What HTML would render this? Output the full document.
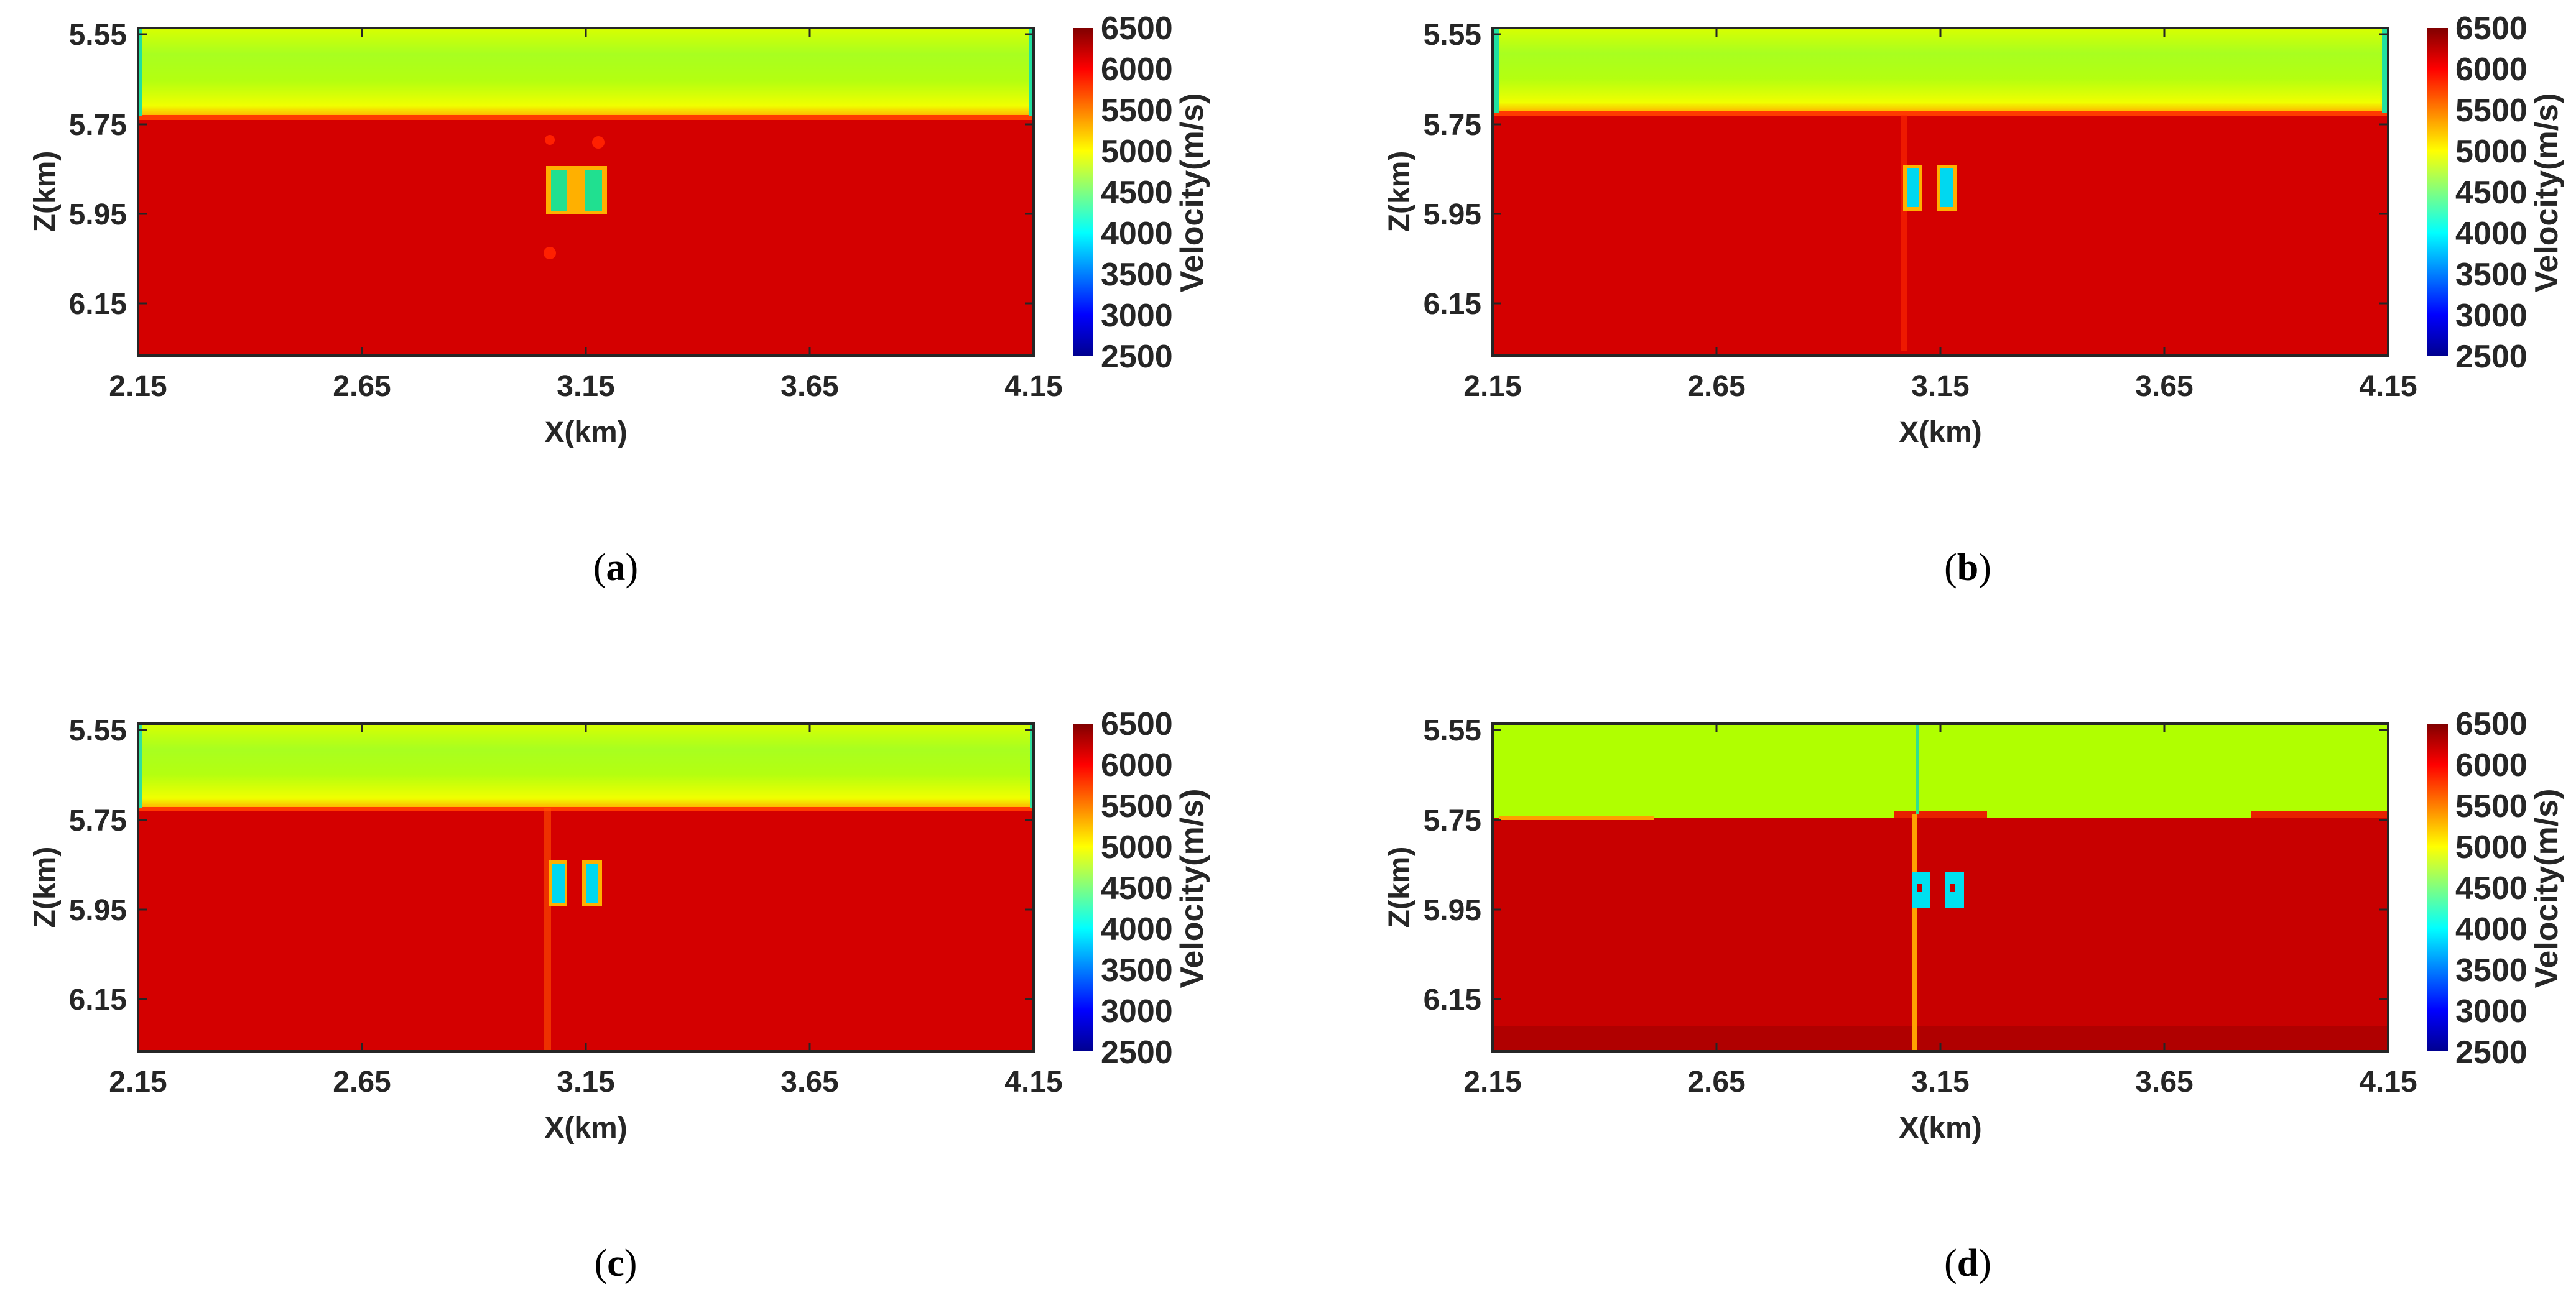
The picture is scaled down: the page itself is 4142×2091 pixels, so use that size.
<!DOCTYPE html>
<html><head><meta charset="utf-8"><style>
html,body{margin:0;padding:0;background:#fff}
svg{display:block}
.t{font-family:"Liberation Sans",Arial,sans-serif;font-weight:bold;font-size:48px;fill:#262626}
.c{font-family:"Liberation Sans",Arial,sans-serif;font-weight:bold;font-size:52px;fill:#262626}
.l{font-family:"Liberation Serif",serif;font-size:62px;fill:#000}
</style></head><body>
<svg width="4142" height="2091" viewBox="0 0 4142 2091" xmlns="http://www.w3.org/2000/svg">
<defs>
<linearGradient id="jet" x1="0" y1="1" x2="0" y2="0">
<stop offset="0" stop-color="#00008f"/><stop offset="0.125" stop-color="#0000ff"/>
<stop offset="0.375" stop-color="#00ffff"/><stop offset="0.5" stop-color="#80ff80"/><stop offset="0.625" stop-color="#ffff00"/>
<stop offset="0.875" stop-color="#ff0000"/><stop offset="1" stop-color="#800000"/>
</linearGradient>
<linearGradient id="top" x1="0" y1="0" x2="0" y2="1">
<stop offset="0" stop-color="#d8ff00"/><stop offset="0.3" stop-color="#a8ff20"/><stop offset="0.6" stop-color="#b4ff10"/><stop offset="0.88" stop-color="#f0ff00"/><stop offset="1" stop-color="#ffb000"/>
</linearGradient>
<g id="axes">
<rect x="0" y="0" width="1440" height="527" fill="none" stroke="#262626" stroke-width="4"/>
<g stroke="#262626" stroke-width="3">
<line x1="0" y1="10" x2="14" y2="10"/><line x1="0" y1="155" x2="14" y2="155"/><line x1="0" y1="299" x2="14" y2="299"/><line x1="0" y1="443" x2="14" y2="443"/>
<line x1="1440" y1="10" x2="1426" y2="10"/><line x1="1440" y1="155" x2="1426" y2="155"/><line x1="1440" y1="299" x2="1426" y2="299"/><line x1="1440" y1="443" x2="1426" y2="443"/>
<line x1="360" y1="0" x2="360" y2="14"/><line x1="720" y1="0" x2="720" y2="14"/><line x1="1080" y1="0" x2="1080" y2="14"/>
<line x1="360" y1="527" x2="360" y2="513"/><line x1="720" y1="527" x2="720" y2="513"/><line x1="1080" y1="527" x2="1080" y2="513"/>
</g>
<g class="t" text-anchor="end">
<text x="-18" y="27">5.55</text><text x="-18" y="172">5.75</text><text x="-18" y="316">5.95</text><text x="-18" y="460">6.15</text>
</g>
<g class="t" text-anchor="middle">
<text x="0" y="592">2.15</text><text x="360" y="592">2.65</text><text x="720" y="592">3.15</text><text x="1080" y="592">3.65</text><text x="1440" y="592">4.15</text>
<text x="720" y="666">X(km)</text>
<text transform="translate(-134,263) rotate(-90)">Z(km)</text>
</g>
<rect x="1503" y="0" width="33" height="527" fill="url(#jet)"/>
<g class="c">
<text x="1548" y="18">6500</text><text x="1548" y="84">6000</text><text x="1548" y="150">5500</text><text x="1548" y="216">5000</text>
<text x="1548" y="282">4500</text><text x="1548" y="348">4000</text><text x="1548" y="414">3500</text><text x="1548" y="480">3000</text><text x="1548" y="546">2500</text>
<text transform="translate(1712,265) rotate(-90)" text-anchor="middle" font-size="52">Velocity(m/s)</text>
</g>
</g>
</defs>

<!-- (a) -->
<g transform="translate(222,45)">
<rect x="0" y="0" width="1440" height="527" fill="#d40000"/>
<rect x="0" y="0" width="1440" height="142" fill="url(#top)"/>
<rect x="0" y="140" width="1440" height="8" fill="#ff3a00"/>
<rect x="0" y="0" width="6" height="142" fill="#20e0a0"/><rect x="1432" y="0" width="8" height="142" fill="#20e0a0"/>
<rect x="656" y="222" width="98" height="78" fill="#ffb000"/>
<rect x="664" y="228" width="26" height="66" fill="#20e090"/><rect x="718" y="228" width="28" height="66" fill="#20e090"/>
<circle cx="662" cy="180" r="8" fill="#ff2000"/><circle cx="740" cy="184" r="10" fill="#ff2000"/><circle cx="662" cy="362" r="10" fill="#ff2000"/>
<use href="#axes"/>
<text class="l" x="768" y="888" text-anchor="middle">(<tspan font-weight="bold">a</tspan>)</text>
</g>

<!-- (b) -->
<g transform="translate(2400,45)">
<rect x="0" y="0" width="1440" height="527" fill="#d40000"/>
<rect x="0" y="0" width="1440" height="136" fill="url(#top)"/>
<rect x="0" y="134" width="1440" height="7" fill="#ff3a00"/>
<rect x="0" y="0" width="10" height="136" fill="#20e0a0"/><rect x="1430" y="0" width="10" height="136" fill="#20e0a0"/>
<rect x="656" y="140" width="10" height="380" fill="#ff2a00" opacity="0.6"/>
<rect x="660" y="220" width="30" height="74" fill="#ffb000"/><rect x="714" y="220" width="32" height="74" fill="#ffb000"/>
<rect x="666" y="226" width="20" height="62" fill="#00d8f0"/><rect x="720" y="226" width="20" height="62" fill="#00d8f0"/>
<use href="#axes"/>
<text class="l" x="764" y="888" text-anchor="middle">(<tspan font-weight="bold">b</tspan>)</text>
</g>

<!-- (c) -->
<g transform="translate(222,1164)">
<rect x="0" y="0" width="1440" height="527" fill="#d40000"/>
<rect x="0" y="0" width="1440" height="136" fill="url(#top)"/>
<rect x="0" y="134" width="1440" height="7" fill="#ff3a00"/>
<rect x="0" y="0" width="6" height="136" fill="#30e0a0"/><rect x="1434" y="0" width="6" height="136" fill="#30e0a0"/>
<rect x="652" y="136" width="12" height="391" fill="#ff5000" opacity="0.6"/>
<rect x="660" y="220" width="30" height="74" fill="#ffb000"/><rect x="714" y="220" width="32" height="74" fill="#ffb000"/>
<rect x="666" y="226" width="20" height="62" fill="#00d8f0"/><rect x="720" y="226" width="20" height="62" fill="#00d8f0"/>
<use href="#axes"/>
<text class="l" x="768" y="888" text-anchor="middle">(<tspan font-weight="bold">c</tspan>)</text>
</g>

<!-- (d) -->
<g transform="translate(2400,1164)">
<rect x="0" y="0" width="1440" height="527" fill="#c80000"/>
<rect x="0" y="486" width="1440" height="41" fill="#b00000"/>
<rect x="0" y="0" width="1440" height="151" fill="#b0ff00"/>
<rect x="10" y="149" width="250" height="6" fill="#ffa000"/>
<rect x="645" y="141" width="150" height="10" fill="#e82000"/><rect x="1220" y="141" width="220" height="10" fill="#e82000"/>
<rect x="680" y="0" width="5" height="145" fill="#30e090"/>
<rect x="675" y="145" width="7" height="382" fill="#ffa000"/>
<rect x="674" y="238" width="30" height="58" fill="#00e0f0"/><rect x="728" y="238" width="30" height="58" fill="#00e0f0"/>
<rect x="682" y="258" width="8" height="12" fill="#c80000"/><rect x="736" y="258" width="8" height="12" fill="#c80000"/>
<use href="#axes"/>
<text class="l" x="764" y="888" text-anchor="middle">(<tspan font-weight="bold">d</tspan>)</text>
</g>
</svg>
</body></html>
